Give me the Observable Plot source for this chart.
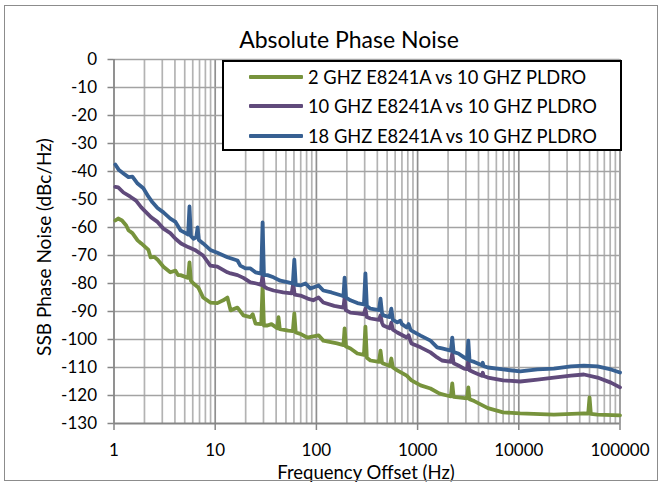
<!DOCTYPE html>
<html><head><meta charset="utf-8">
<script src="https://cdn.jsdelivr.net/npm/d3@7"></script>
<script src="https://cdn.jsdelivr.net/npm/@observablehq/plot@0.6"></script>
<style>
body{margin:0;background:#fff;}
#wrap{position:relative;width:662px;height:484px;font-family:Lato,"Open Sans",sans-serif;color:#000;overflow:hidden;}
#border{position:absolute;left:4px;top:5px;width:654px;height:476px;border:1px solid #8c8c8c;box-sizing:border-box;pointer-events:none;}
#chart{position:absolute;left:0;top:0;}
#title{position:absolute;left:349px;top:28px;transform:translateX(-50%);font-size:23px;line-height:23px;white-space:nowrap;}
#ylab{position:absolute;left:43px;top:247px;transform:translate(-50%,-50%) rotate(-90deg);font-size:19px;line-height:19px;white-space:nowrap;}
#xlab{position:absolute;left:366px;top:472px;transform:translate(-50%,-50%);font-size:18.5px;line-height:18.5px;white-space:nowrap;}
#legend{position:absolute;left:222px;top:60px;width:400px;height:91px;border:2px solid #000;box-sizing:border-box;background:#fff;padding-top:0px;}
.row{height:29.5px;display:flex;align-items:center;font-size:18.3px;white-space:nowrap;}
.sw{width:54px;height:4px;margin-left:25px;margin-right:5px;border-radius:1px;}
</style>
</head><body>
<div id="wrap">
  <div id="chart"></div>
  <div id="title">Absolute Phase Noise</div>
  <div id="ylab">SSB Phase Noise (dBc/Hz)</div>
  <div id="xlab">Frequency Offset (Hz)</div>
  <div id="legend"></div>
  <div id="border"></div>
</div>
<script>
const seriesNames = ["2 GHZ E8241A vs 10 GHZ PLDRO", "10 GHZ E8241A vs 10 GHZ PLDRO", "18 GHZ E8241A vs 10 GHZ PLDRO"];
const seriesColors = ["#77933c", "#604a7b", "#376092"];

const xTicks = [1, 10, 100, 1000, 10000, 100000];
const yTicks = [0, -10, -20, -30, -40, -50, -60, -70, -80, -90, -100, -110, -120, -130];

// 2 GHz E8241A
const greenFreq = [1.03,1.1,1.2,1.32,1.39,1.52,1.71,1.86,2.19,2.3,2.5,2.7,3.08,3.6,4.05,4.3,4.54,5.4,5.57,5.75,6.1,6.8,7.6,8.95,10.5,12,13.2,14.2,16.6,19,22.3,23.5,25,28.5,29.4,30.3,32.8,36,41,42.2,43.5,52.7,58.5,60.5,62.5,69.5,81,105,117,160,185,190,196,217,254,295,305,315,342,415,430,445,458,530,550,570,630,780,870,1070,1340,1650,1950,2130,2200,2270,2530,3080,3170,3260,3630,4950,7000,10300,22200,44000,48500,50000,51500,60000,100000];
const greenDb   = [-57.5,-56.8,-57.5,-59.3,-61,-62,-64.6,-65.7,-68,-70.7,-70.5,-71.5,-74,-76,-75.4,-77,-77,-78,-72.5,-79,-80,-81.4,-85,-86.8,-87,-86,-85,-89.6,-88.6,-91.4,-92,-91,-94.3,-94.5,-80.7,-95,-95,-94.5,-96,-92,-96.3,-96.8,-97,-90.7,-97.5,-98,-99.3,-98.5,-100.4,-101.4,-102,-96,-102.5,-103.2,-105,-105.5,-95.4,-106.5,-107.5,-108,-104,-108.3,-108.6,-109.5,-106.8,-110,-111,-112.9,-114.6,-116.4,-117.5,-119.3,-120,-120.3,-115.7,-120.5,-120.7,-121,-117.1,-121.3,-122,-124.5,-126,-126.4,-126.8,-126.4,-126.5,-120.7,-126.6,-126.8,-127.1];

// 10 GHz E8241A
const purpleFreq = [1.03,1.1,1.24,1.45,1.65,1.86,2.08,2.33,2.69,3.08,3.6,4.05,4.6,5.4,6.3,7.6,8.95,10.5,13.2,14.2,16.6,19,22.3,25.5,28.5,29.4,30.3,32.8,37.7,47,57,59,61,69.5,82,93,105,117,150,185,190,195,217,254,295,305,315,342,415,430,445,458,530,550,570,630,780,815,850,870,1070,1340,1560,1740,2130,2200,2270,2530,2880,3080,3170,3260,3630,4380,4400,4500,4950,7000,10300,15300,22200,32700,44000,60000,81300,100000];
const purpleDb   = [-45.5,-45.7,-47.5,-49,-50.4,-52.8,-54.6,-56.4,-58,-60.4,-62,-64,-65.7,-67,-68,-70,-73.6,-74,-76,-76.4,-77,-78,-79.6,-80,-80.5,-77.1,-81,-81.8,-82.5,-83.2,-83.5,-80,-84,-84.3,-85.4,-86,-85,-86.8,-88,-88.6,-85,-89.5,-90.4,-90.7,-91,-89,-92,-92.5,-93,-91.4,-94,-95,-96,-94,-96.5,-97.5,-99.3,-98.5,-100.5,-101.4,-102.8,-104.6,-106.4,-107.5,-108,-105,-108.5,-109.3,-110.4,-110.6,-107.5,-111,-111.8,-113,-111.8,-113,-113.6,-114.6,-115,-114.3,-113.6,-112.9,-112.5,-113.6,-115.4,-117.1];

// 18 GHz E8241A
const blueFreq = [1.03,1.12,1.24,1.39,1.52,1.71,1.95,2.19,2.4,2.69,3.08,3.6,4.05,4.54,5.1,5.4,5.57,5.75,6.1,6.5,6.7,6.9,7.6,8.95,10.5,13.2,14.2,16.6,17.7,19.9,22.3,25,28.5,29.4,30.3,32.8,37.7,44,52.7,58.5,60.5,62.5,69.5,78,87.5,105,117,141,177,185,190,196,217,254,295,305,315,342,415,430,445,458,530,550,570,630,675,700,780,815,850,870,1070,1340,1560,1740,2130,2200,2270,2530,2880,3080,3170,3260,3630,4380,4400,4500,4950,7000,10300,15300,22200,32700,44000,60000,81300,100000];
const blueDb   = [-37.5,-39.5,-40.7,-42,-41.8,-44.3,-46,-49,-51,-53,-54.6,-56.8,-58,-61,-62,-62.5,-52.5,-63,-64,-63.5,-60,-64.5,-65.7,-68,-69,-70.6,-71,-71.8,-73.6,-74.6,-74.6,-76,-76.5,-58.2,-77,-77,-77.8,-79,-79.6,-80,-71.5,-80.5,-80.7,-80,-81.8,-80.7,-82.5,-83.2,-84.3,-84.5,-77.9,-85,-86,-87,-87.5,-76.4,-88,-89,-89.5,-85.4,-90.5,-91.4,-92,-89,-93,-93.9,-93.3,-94.5,-95.7,-94.5,-96.5,-96.8,-98.6,-100.4,-102.8,-103.2,-104,-99.3,-104.5,-105,-106.4,-107,-100.4,-107.5,-108,-109.3,-108.3,-109.5,-110,-110.7,-111.4,-110.7,-110.4,-109.6,-109.3,-109.6,-110.7,-111.8];

const toRows = (fs, vs) => fs.map((f, i) => ({f, v: vs[i]}));
const series = [toRows(greenFreq, greenDb), toRows(purpleFreq, purpleDb), toRows(blueFreq, blueDb)];

const xMinor = xTicks.slice(0, -1).flatMap(d => [2,3,4,5,6,7,8,9].map(k => k * d));

const chart = Plot.plot({
  width: 662, height: 484,
  marginLeft: 113.5, marginRight: 42.5, marginTop: 59, marginBottom: 61,
  x: {type: "log", domain: [1, 100000]},
  y: {domain: [-130, 0]},
  style: {fontFamily: "Lato, 'Open Sans', sans-serif", fontSize: "17px", color: "#000", background: "transparent", overflow: "visible"},
  marks: [
    Plot.ruleX(xMinor, {stroke: "#b3b3b3", strokeWidth: 1.7}),
    Plot.ruleX(xTicks.slice(1), {stroke: "#8f8f8f", strokeWidth: 1.7}),
    Plot.ruleY(yTicks.slice(0, -1), {stroke: "#a3a3a3", strokeWidth: 1.7}),
    Plot.axisX(xTicks, {anchor: "bottom", tickSize: 7, tickPadding: 13, tickFormat: d => String(d), stroke: "#868686", strokeWidth: 1.5, label: null}),
    Plot.axisY(yTicks, {anchor: "left", tickSize: 6, tickPadding: 11, tickFormat: d => String(d), stroke: "#868686", strokeWidth: 1.5, label: null}),
    Plot.ruleX([1], {stroke: "#868686", strokeWidth: 1.8}),
    Plot.ruleY([-130], {stroke: "#868686", strokeWidth: 1.8}),
    ...series.map((rows, i) => Plot.line(rows, {x: "f", y: "v", stroke: seriesColors[i], strokeWidth: 3.8, strokeLinejoin: "round", strokeLinecap: "round", curve: "linear"}))
  ]
});
document.getElementById("chart").appendChild(chart);

const legend = document.getElementById("legend");
seriesNames.forEach((name, i) => {
  const row = document.createElement("div");
  row.className = "row";
  const sw = document.createElement("div");
  sw.className = "sw";
  sw.style.background = seriesColors[i];
  const t = document.createElement("span");
  t.textContent = name;
  row.appendChild(sw); row.appendChild(t);
  legend.appendChild(row);
});
</script>
</body></html>
